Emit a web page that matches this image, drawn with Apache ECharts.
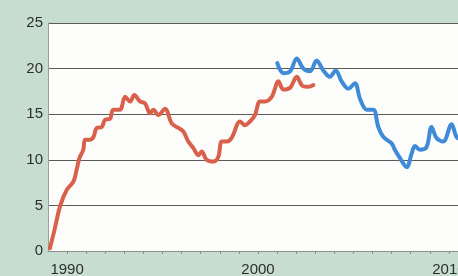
<!DOCTYPE html>
<html>
<head>
<meta charset="utf-8">
<script src="https://cdn.jsdelivr.net/npm/echarts@6/dist/echarts.min.js"></script>
<style>
html,body{margin:0;padding:0;background:#c6ddd0;}
#c{width:458px;height:276px;}
</style>
</head>
<body>
<div id="c"></div>
<script>
const yTicks = [0, 5, 10, 15, 20, 25];
const xLabels = [1990, 2000, 2010];

const redYears = [1989.1, 1989.35, 1989.63, 1989.98, 1990.33, 1990.5, 1990.65, 1990.85, 1990.94, 1991.2, 1991.38, 1991.55, 1991.82, 1991.99, 1992.25, 1992.42, 1992.77, 1993.04, 1993.3, 1993.52, 1993.82, 1994.08, 1994.35, 1994.52, 1994.78, 1995.13, 1995.48, 1995.83, 1996.09, 1996.35, 1996.61, 1996.87, 1997.05, 1997.31, 1997.66, 1997.92, 1998.1, 1998.36, 1998.62, 1999.06, 1999.32, 1999.58, 1999.84, 2000.1, 2000.37, 2000.72, 2001.07, 2001.33, 2001.68, 2002.03, 2002.33, 2002.64, 2002.9];
const redValues = [0.3, 2.4, 4.9, 6.7, 7.6, 8.9, 10.2, 11.1, 12.2, 12.2, 12.5, 13.5, 13.6, 14.4, 14.5, 15.5, 15.5, 16.9, 16.4, 17.1, 16.4, 16.2, 15.1, 15.5, 14.9, 15.6, 14.0, 13.5, 13.1, 12.0, 11.3, 10.5, 10.9, 10.0, 9.8, 10.3, 12.0, 12.0, 12.4, 14.2, 13.8, 14.2, 14.9, 16.4, 16.4, 16.9, 18.6, 17.7, 17.9, 19.1, 18.1, 18.0, 18.2];

const blueYears = [2001.01, 2001.33, 2001.68, 2002.03, 2002.38, 2002.73, 2003.07, 2003.42, 2003.77, 2004.07, 2004.38, 2004.73, 2005.08, 2005.34, 2005.69, 2006.04, 2006.3, 2006.57, 2007.0, 2007.17, 2007.43, 2007.79, 2008.05, 2008.22, 2008.48, 2008.83, 2009.09, 2009.35, 2009.7, 2010.14, 2010.4, 2010.7];
const blueValues = [20.6, 19.5, 19.7, 21.1, 20.0, 19.7, 20.9, 19.8, 19.1, 19.8, 18.6, 17.8, 18.4, 16.7, 15.5, 15.5, 13.6, 12.5, 11.8, 11.1, 10.2, 9.2, 10.7, 11.5, 11.1, 11.4, 13.6, 12.4, 12.0, 13.9, 12.5, 12.2];

const zip = (a, b) => a.map((v, i) => [v, b[i]]);
const chart = echarts.init(document.getElementById('c'));
const labelFont = { color: '#2e2e2e', fontSize: 15, fontFamily: 'Liberation Sans' };

chart.setOption({
  animation: false,
  backgroundColor: '#c6ddd0',
  grid: { left: 48, top: 23, width: 420, height: 228, show: true, backgroundColor: '#fdfdfb', borderWidth: 0, outerBoundsMode: 'none', containLabel: false },
  xAxis: {
    type: 'value', min: 1989, max: 2011, interval: 1,
    axisLine: { show: true, onZero: false, lineStyle: { color: '#8a8f8c', width: 1 } },
    axisTick: { show: true, length: 3, lineStyle: { color: '#8a8f8c' } },
    splitLine: { show: false },
    axisLabel: Object.assign({ margin: 11, hideOverlap: false, formatter: v => xLabels.includes(v) ? String(v) : '', showMinLabel: false }, labelFont)
  },
  yAxis: {
    type: 'value', min: 0, max: 25, interval: 5,
    axisLine: { show: true, lineStyle: { color: '#9aa09c', width: 1 } },
    axisTick: { show: false },
    splitLine: { show: true, lineStyle: { color: '#5a5a5a', width: 1 } },
    axisLabel: Object.assign({ margin: 5, formatter: v => yTicks.includes(v) ? String(v) : '' }, labelFont)
  },
  series: [
    { type: 'line', data: zip(redYears, redValues), smooth: 0.35, symbol: 'none',
      lineStyle: { color: '#d9614c', width: 4, cap: 'round', join: 'round' } },
    { type: 'line', data: zip(blueYears, blueValues), smooth: 0.35, symbol: 'none',
      lineStyle: { color: '#3f8bd9', width: 4, cap: 'round', join: 'round' } }
  ]
});
</script>
</body>
</html>
